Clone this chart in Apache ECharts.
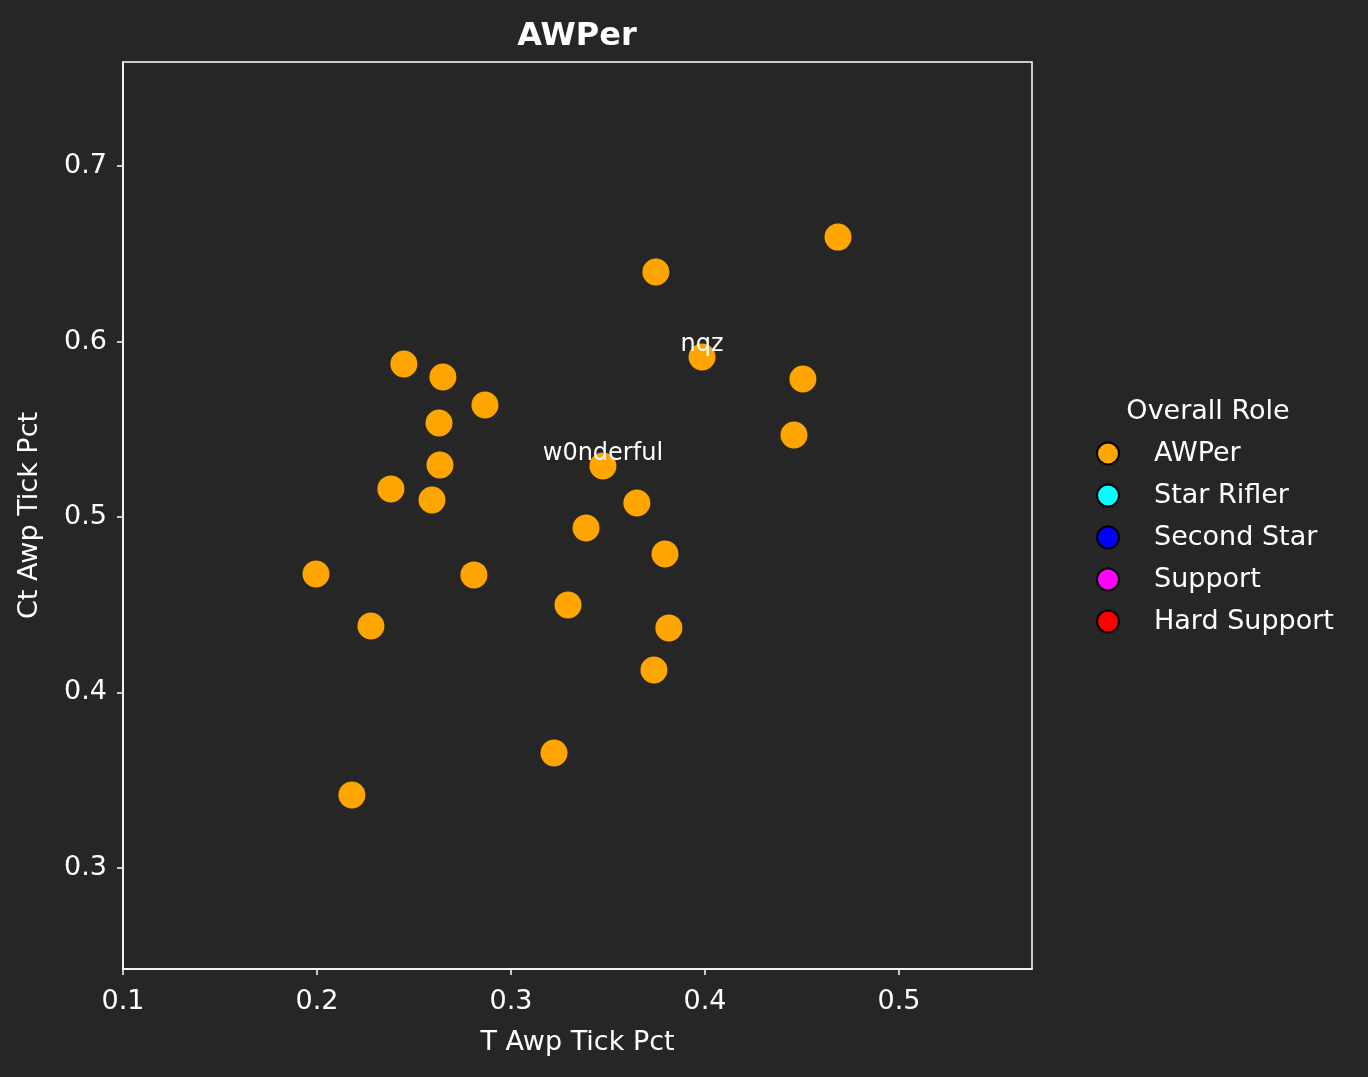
<!DOCTYPE html>
<html>
<head>
<meta charset="utf-8">
<script src="https://cdn.jsdelivr.net/npm/echarts@6/dist/echarts.min.js"></script>
<style>
  html, body { margin: 0; padding: 0; background: #262626; }
  #chart { width: 1368px; height: 1077px; }
</style>
</head>
<body>
<div id="chart"></div>
<script>
// AWPer points: T side awp tick % vs CT side awp tick %
const tAwpTickPct = [0.4686, 0.3747, 0.3985, 0.4505, 0.4459, 0.2448, 0.2649, 0.2866,
  0.2629, 0.2634, 0.2381, 0.2593, 0.3474, 0.3649, 0.3387, 0.3794,
  0.1995, 0.2809, 0.2278, 0.3294, 0.3814, 0.3737, 0.3222, 0.2180];
const ctAwpTickPct = [0.6595, 0.6396, 0.5912, 0.5786, 0.5467, 0.5872, 0.5798, 0.5638,
  0.5536, 0.5296, 0.5160, 0.5097, 0.5291, 0.5080, 0.4937, 0.4789,
  0.4675, 0.4670, 0.4379, 0.4499, 0.4368, 0.4128, 0.3655, 0.3416];
const playerLabels = ['', '', 'nqz', '', '', '', '', '',
  '', '', '', '', 'w0nderful', '', '', '',
  '', '', '', '', '', '', '', ''];

const roles = ['AWPer', 'Star Rifler', 'Second Star', 'Support', 'Hard Support'];
const roleColors = ['#FFA500', '#00FFFF', '#0000FF', '#FF00FF', '#FF0000'];
const xTicks = [0.1, 0.2, 0.3, 0.4, 0.5];
const yTicks = [0.3, 0.4, 0.5, 0.6, 0.7];

const chart = echarts.init(document.getElementById('chart'));
const font = 'DejaVu Sans';

const awperData = tAwpTickPct.map((t, i) => [t, ctAwpTickPct[i], playerLabels[i]]);

const series = roles.map((role, i) => ({
  name: role,
  type: 'scatter',
  symbol: 'circle',
  symbolSize: 27,
  itemStyle: { color: roleColors[i], opacity: 1 },
  data: i === 0 ? awperData : [],
  label: {
    show: true,
    position: 'inside',
    offset: [0, -12],
    formatter: (p) => p.data[2] || '',
    color: '#ffffff',
    fontFamily: font,
    fontSize: 24
  },
  emphasis: { disabled: true }
}));

const axisCommon = {
  type: 'value',
  nameLocation: 'middle',
  nameTextStyle: { color: '#ffffff', fontFamily: font, fontSize: 27 },
  splitLine: { show: false },
  axisLine: { show: true, onZero: false, lineStyle: { color: '#ffffff', width: 1.5 } },
  axisTick: { show: true, length: 6, lineStyle: { color: '#ffffff', width: 1.5 } },
  axisLabel: {
    color: '#ffffff', fontFamily: font, fontSize: 27,
    formatter: (v) => v.toFixed(1)
  }
};

chart.setOption({
  backgroundColor: '#262626',
  animation: false,
  title: [
    {
      text: 'AWPer',
      left: 572, top: 16, textAlign: 'center',
      textStyle: { color: '#ffffff', fontFamily: font, fontSize: 32, fontWeight: 'bold' }
    },
    {
      text: 'Overall Role',
      left: 1203, top: 393, textAlign: 'center',
      textStyle: { color: '#ffffff', fontFamily: font, fontSize: 27, fontWeight: 'normal' }
    }
  ],
  grid: {
    left: 123, right: 336, top: 62, bottom: 108,
    show: true, borderColor: '#ffffff', borderWidth: 1.5, backgroundColor: 'transparent'
  },
  legend: {
    orient: 'vertical',
    left: 1091, top: 435,
    itemWidth: 22, itemHeight: 22, itemGap: 15,
    icon: 'circle',
    itemStyle: { borderColor: '#000000', borderWidth: 2 },
    textStyle: { color: '#ffffff', fontFamily: font, fontSize: 27, padding: [0, 0, 0, 30] },
    data: roles
  },
  xAxis: Object.assign({}, axisCommon, {
    name: 'T Awp Tick Pct',
    nameGap: 60,
    min: 0.1, max: 0.5686,
    axisTick: Object.assign({}, axisCommon.axisTick, { customValues: xTicks }),
    axisLabel: Object.assign({}, axisCommon.axisLabel, { customValues: xTicks, margin: 19 })
  }),
  yAxis: Object.assign({}, axisCommon, {
    name: 'Ct Awp Tick Pct',
    nameGap: 80,
    min: 0.2424, max: 0.7593,
    axisTick: Object.assign({}, axisCommon.axisTick, { customValues: yTicks }),
    axisLabel: Object.assign({}, axisCommon.axisLabel, { customValues: yTicks, margin: 16 })
  }),
  series: series
});
</script>
</body>
</html>
